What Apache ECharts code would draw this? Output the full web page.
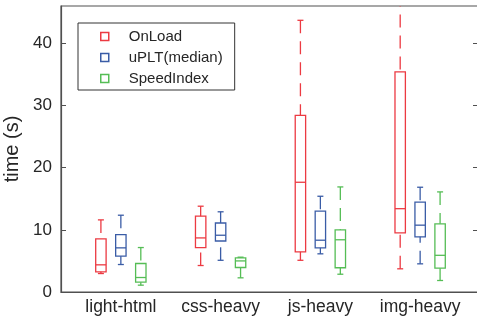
<!DOCTYPE html>
<html>
<head>
<meta charset="utf-8">
<script src="https://cdn.jsdelivr.net/npm/echarts@6/dist/echarts.min.js"></script>
<style>
  html, body { margin: 0; padding: 0; background: #fff; }
  #chart { width: 477px; height: 320px; }
</style>
</head>
<body>
<div id="chart"></div>
<script>
// page categories and series
var categories = ['light-html', 'css-heavy', 'js-heavy', 'img-heavy'];
var seriesNames = ['OnLoad', 'uPLT(median)', 'SpeedIndex'];
var yTicks = [0, 10, 20, 30, 40];

// [lower whisker, q1, median, q3, upper whisker] in seconds
var onLoad = [[2.97, 3.25, 4.37, 8.55, 11.6], [4.26, 7.15, 8.7, 12.2, 13.8], [5.1, 6.46, 17.65, 28.4, 43.7], [3.73, 9.5, 13.4, 35.4, 48]];
var uplt = [[4.42, 5.76, 7.1, 9.24, 12.35], [5.1, 8.2, 9.13, 11.1, 12.9], [6.14, 7.1, 8.33, 13.0, 15.4], [4.53, 8.87, 10.75, 14.45, 16.85]];
var speedIndex = [[1.1, 1.58, 2.33, 4.58, 7.15], [2.28, 3.94, 5.0, 5.5, 5.6], [2.86, 3.9, 8.4, 10.0, 16.9], [1.85, 3.83, 5.9, 10.96, 16.1]];

var colors = ['#ec3a42', '#3a5ca6', '#55bd55'];
var font = 'Liberation Sans';
var allData = [onLoad, uplt, speedIndex];
var offsets = [-0.2, 0, 0.2];

function renderBox(params, api) {
    var color = colors[params.seriesIndex];
    var x = api.value(0);
    var pLow = api.coord([x, api.value(1)]), pQ1 = api.coord([x, api.value(2)]),
        pMed = api.coord([x, api.value(3)]), pQ3 = api.coord([x, api.value(4)]),
        pHigh = api.coord([x, api.value(5)]);
    var cx = pMed[0], hw = 5.2, cw = 3;
    var solid = {stroke: color, lineWidth: 1.3, fill: 'none'};
    var dashed = {stroke: color, lineWidth: 1.3, lineDash: [13, 8]};
    return {
        type: 'group',
        children: [
            {type: 'line', shape: {x1: cx, y1: pHigh[1], x2: cx, y2: pQ3[1]}, style: dashed},
            {type: 'line', shape: {x1: cx, y1: pLow[1], x2: cx, y2: pQ1[1]}, style: dashed},
            {type: 'line', shape: {x1: cx - cw, y1: pHigh[1], x2: cx + cw, y2: pHigh[1]}, style: solid},
            {type: 'line', shape: {x1: cx - cw, y1: pLow[1], x2: cx + cw, y2: pLow[1]}, style: solid},
            {type: 'rect', shape: {x: cx - hw, y: pQ3[1], width: hw * 2, height: pQ1[1] - pQ3[1]}, style: solid},
            {type: 'line', shape: {x1: cx - hw, y1: pMed[1], x2: cx + hw, y2: pMed[1]}, style: solid}
        ]
    };
}

var series = seriesNames.map(function (name, s) {
    return {
        name: name,
        type: 'custom',
        clip: true,
        itemStyle: {color: colors[s], borderColor: colors[s]},
        encode: {x: 0, y: [1, 2, 3, 4, 5]},
        data: allData[s].map(function (d, i) {
            return [i + 1 + offsets[s]].concat(d);
        }),
        renderItem: renderBox
    };
});

var chart = echarts.init(document.getElementById('chart'), null, {renderer: 'canvas'});
chart.setOption({
    animation: false,
    textStyle: {fontFamily: font},
    grid: {left: 61, right: -1, top: 6, bottom: 28, containLabel: false, outerBoundsMode: 'none',
        show: true, borderColor: '#505050', borderWidth: 1.2},
    legend: {
        orient: 'vertical',
        left: 78, top: 23,
        padding: [6, 12, 4, 22],
        itemWidth: 8, itemHeight: 8, itemGap: 6,
        borderColor: '#333', borderWidth: 1,
        textStyle: {fontSize: 15, color: '#262626', fontFamily: font, lineHeight: 15, padding: [0, 0, 0, 15]},
        data: seriesNames.map(function (n, s) {
            return {name: n, icon: 'rect', itemStyle: {color: '#fff', borderColor: colors[s], borderWidth: 1.5}};
        })
    },
    xAxis: {
        type: 'value', min: 0.4, max: 4.58,
        splitLine: {show: false},
        axisLine: {lineStyle: {color: '#505050', width: 1.2}},
        axisTick: {show: false},
        axisLabel: {
            customValues: [1, 2, 3, 4],
            formatter: function (v) { return categories[Math.round(v) - 1]; },
            fontSize: 17.5, color: '#262626', margin: 6, fontFamily: font
        }
    },
    yAxis: [{
        type: 'value', min: 0, max: 46, interval: 10,
        name: 'time (s)', nameLocation: 'middle', nameGap: 32,
        nameTextStyle: {fontSize: 20, color: '#262626', fontFamily: font},
        splitLine: {show: false},
        axisLine: {show: true, lineStyle: {color: '#505050', width: 1.2}},
        axisTick: {inside: true, length: 5, customValues: yTicks, lineStyle: {color: '#505050'}},
        axisLabel: {customValues: yTicks, fontSize: 17, color: '#262626', margin: 9, fontFamily: font}
    }, {
        type: 'value', min: 0, max: 46, interval: 10, position: 'right',
        splitLine: {show: false},
        axisLine: {show: true, lineStyle: {color: '#505050', width: 1.2}},
        axisTick: {inside: true, length: 5, customValues: yTicks, lineStyle: {color: '#505050'}},
        axisLabel: {show: false}
    }],
    series: series
});
</script>
</body>
</html>
